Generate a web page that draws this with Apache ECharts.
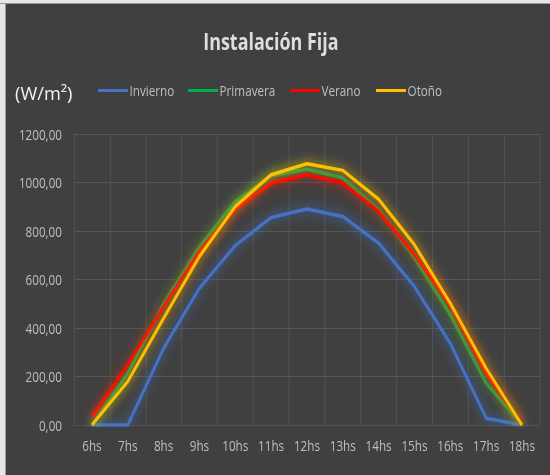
<!DOCTYPE html>
<html>
<head>
<meta charset="utf-8">
<script src="https://cdn.jsdelivr.net/npm/echarts@6/dist/echarts.min.js"></script>
<style>
html,body{margin:0;padding:0;background:#404040;overflow:hidden;}
#wrap{position:absolute;left:0;top:0;width:550px;height:475px;overflow:hidden;}
#c{position:absolute;left:0;top:0;width:705px;height:475px;transform:scaleX(0.78);transform-origin:0 0;}
#bl{position:absolute;left:0;top:0;width:5px;height:475px;background:#e6e6e6;border-right:1px solid #9a9a9a;}
#bt{position:absolute;left:0;top:0;width:550px;height:3px;background:#e6e6e6;border-bottom:1px solid #9a9a9a;}
</style>
</head>
<body>
<div id="wrap"><div id="c"></div></div>
<div id="bl"></div>
<div id="bt"></div>
<script>
const categories = ['6hs','7hs','8hs','9hs','10hs','11hs','12hs','13hs','14hs','15hs','16hs','17hs','18hs'];
const invierno  = [0, 0, 316, 564, 740, 856, 891, 860, 750, 571, 337, 28, 0];
const primavera = [0, 213, 502, 736, 922, 1028, 1055, 1018, 887, 688, 454, 172, 0];
const verano    = [34, 248, 488, 715, 890, 997, 1032, 997, 880, 702, 495, 213, 8];
const otono     = [0, 179, 440, 695, 901, 1032, 1077, 1050, 931, 743, 502, 234, 0];
const yTicks = [0, 200, 400, 600, 800, 1000, 1200];
const seriesNames = ['Invierno','Primavera','Verano','Otoño'];

const S = 0.78;               // horizontal condensation of the whole chart
const X = v => v / S;         // page x -> chart x
const FONT = '"Open Sans", sans-serif';
const colors = ['#4472c4', '#00b050', '#ff0000', '#ffc000'];
const legendLeft = [98, 188, 290, 376];

function mk(name, data, color){
  return {
    name: name, type: 'line', data: data, symbol: 'none', smooth: false,
    lineStyle: {color: color, width: 3.5, shadowBlur: 12, shadowColor: color},
    itemStyle: {color: color}
  };
}
const chart = echarts.init(document.getElementById('c'), null, {renderer: 'svg'});
chart.setOption({
  backgroundColor: '#404040',
  animation: false,
  title: {
    text: 'Instalación Fija', left: X(267), textAlign: 'center', top: 25,
    textStyle: {color: '#dedede', fontSize: 23, fontWeight: 'bold', fontFamily: FONT}
  },
  graphic: [{
    type: 'text', left: X(15), top: 84, scaleX: 1.3,
    style: {text: '(W/m²)', fill: '#f2f2f2', fontSize: 18, fontFamily: FONT}
  }],
  legend: seriesNames.map((n, i) => ({
    top: 83, left: X(legendLeft[i]), itemWidth: X(30), itemHeight: 3, itemGap: 0,
    icon: 'rect', padding: 0,
    textStyle: {color: '#bfbfbf', fontSize: 15, fontFamily: FONT, padding: [0,0,0,-3]},
    data: [n]
  })),
  grid: {left: X(74), right: X(10), top: 134, bottom: 50, containLabel: false, outerBoundsMode: 'none'},
  xAxis: {
    type: 'category', data: categories, boundaryGap: true,
    axisLine: {show: true, lineStyle: {color: '#505050'}},
    axisTick: {show: false},
    splitLine: {show: true, lineStyle: {color: '#555555'}},
    axisLabel: {color: '#bfbfbf', fontSize: 15, fontFamily: FONT, margin: 13, interval: 0}
  },
  yAxis: {
    type: 'value', min: yTicks[0], max: yTicks[yTicks.length-1], interval: 200,
    axisLine: {show: false}, axisTick: {show: false},
    splitLine: {show: true, lineStyle: {color: '#595959'}},
    axisLabel: {color: '#bfbfbf', fontSize: 15, fontFamily: FONT, margin: X(12),
      formatter: v => v.toFixed(2).replace('.', ',')}
  },
  series: seriesNames.map((n, i) => mk(n, [invierno, primavera, verano, otono][i], colors[i]))
});
</script>
</body>
</html>
